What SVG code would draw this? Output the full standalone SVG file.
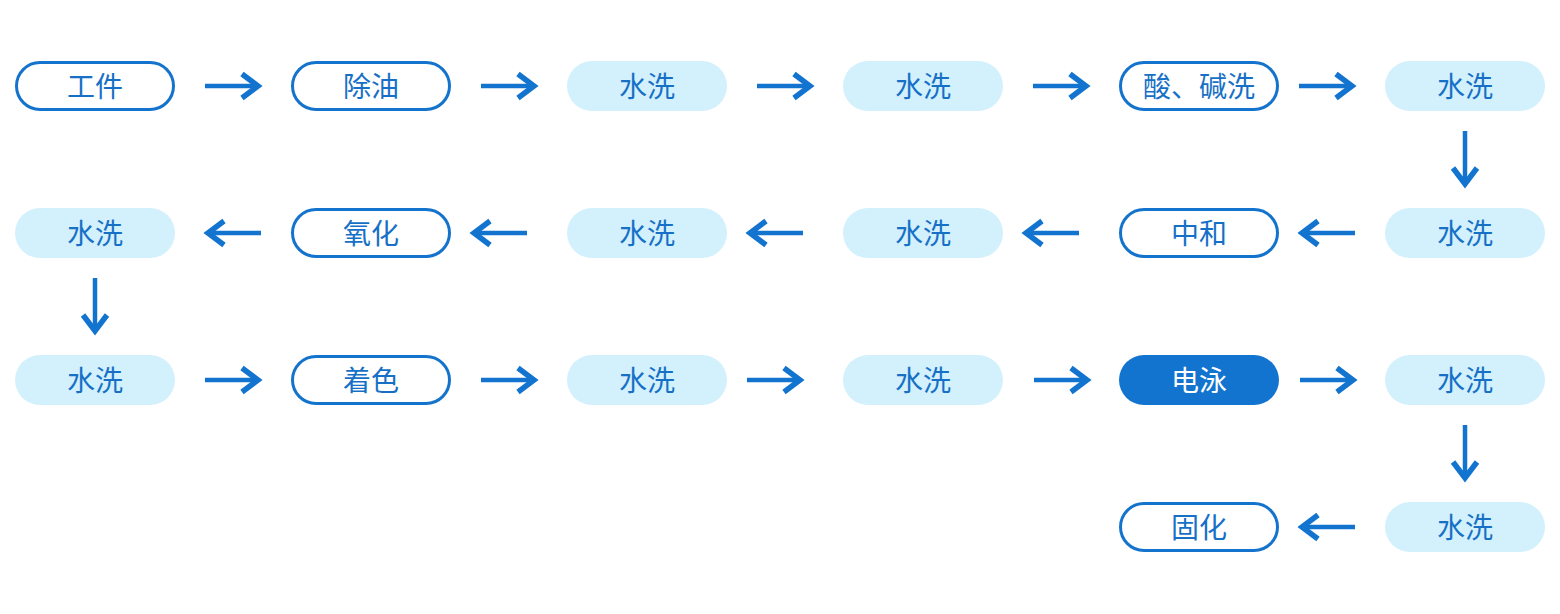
<svg xmlns="http://www.w3.org/2000/svg" width="1560" height="614" viewBox="0 0 1560 614">
<defs>
<style>
.o rect{fill:#fff;stroke:#1473cc;stroke-width:3}
.l rect{fill:#d3f0fd}
.d rect{fill:#1274cf}
text{font-family:"Noto Sans CJK SC","Noto Sans",sans-serif;font-size:28px;fill:#1670c6;text-anchor:middle;dominant-baseline:central}
.d text{fill:#fff}
.a{fill:none;stroke:#1274cf;stroke-width:4.5}
.h{fill:none;stroke:#1274cf;stroke-width:5.5;stroke-linejoin:miter}
</style>
<g id="arrowR"><path class="a" d="M-28 0H24"/><path class="h" d="M9-12L25 0L9 12"/></g>
<g id="arrowL"><path class="a" d="M28 0H-24"/><path class="h" d="M-9-12L-25 0L-9 12"/></g>
<g id="arrowD"><path class="a" d="M0-28V24"/><path class="h" d="M-12 9L0 25L12 9"/></g>
</defs>
<rect width="1560" height="614" fill="#fff"/>
<g id="n1" class="o"><rect x="16.5" y="62.5" width="157" height="47" rx="23.5"/><text x="95" y="85">工件</text></g>
<g id="n2" class="o"><rect x="292.5" y="62.5" width="157" height="47" rx="23.5"/><text x="371" y="85">除油</text></g>
<g id="n3" class="l"><rect x="567" y="61" width="160" height="50" rx="25"/><text x="647" y="85">水洗</text></g>
<g id="n4" class="l"><rect x="843" y="61" width="160" height="50" rx="25"/><text x="923" y="85">水洗</text></g>
<g id="n5" class="o"><rect x="1120.5" y="62.5" width="157" height="47" rx="23.5"/><text x="1199" y="85">酸、碱洗</text></g>
<g id="n6" class="l"><rect x="1385" y="61" width="160" height="50" rx="25"/><text x="1465" y="85">水洗</text></g>
<g id="n7" class="l"><rect x="1385" y="208" width="160" height="50" rx="25"/><text x="1465" y="232">水洗</text></g>
<g id="n8" class="o"><rect x="1120.5" y="209.5" width="157" height="47" rx="23.5"/><text x="1199" y="232">中和</text></g>
<g id="n9" class="l"><rect x="843" y="208" width="160" height="50" rx="25"/><text x="923" y="232">水洗</text></g>
<g id="n10" class="l"><rect x="567" y="208" width="160" height="50" rx="25"/><text x="647" y="232">水洗</text></g>
<g id="n11" class="o"><rect x="292.5" y="209.5" width="157" height="47" rx="23.5"/><text x="371" y="232">氧化</text></g>
<g id="n12" class="l"><rect x="15" y="208" width="160" height="50" rx="25"/><text x="95" y="232">水洗</text></g>
<g id="n13" class="l"><rect x="15" y="355" width="160" height="50" rx="25"/><text x="95" y="379">水洗</text></g>
<g id="n14" class="o"><rect x="292.5" y="356.5" width="157" height="47" rx="23.5"/><text x="371" y="379">着色</text></g>
<g id="n15" class="l"><rect x="567" y="355" width="160" height="50" rx="25"/><text x="647" y="379">水洗</text></g>
<g id="n16" class="l"><rect x="843" y="355" width="160" height="50" rx="25"/><text x="923" y="379">水洗</text></g>
<g id="n17" class="d"><rect x="1119" y="355" width="160" height="50" rx="25"/><text x="1199" y="379">电泳</text></g>
<g id="n18" class="l"><rect x="1385" y="355" width="160" height="50" rx="25"/><text x="1465" y="379">水洗</text></g>
<g id="n19" class="l"><rect x="1385" y="502" width="160" height="50" rx="25"/><text x="1465" y="526">水洗</text></g>
<g id="n20" class="o"><rect x="1120.5" y="503.5" width="157" height="47" rx="23.5"/><text x="1199" y="526">固化</text></g>
<g id="connectors">
<use href="#arrowR" x="233" y="86"/>
<use href="#arrowR" x="509" y="86"/>
<use href="#arrowR" x="785" y="86"/>
<use href="#arrowR" x="1061" y="86"/>
<use href="#arrowR" x="1327" y="86"/>
<use href="#arrowD" x="1465" y="159"/>
<use href="#arrowL" x="1327" y="233"/>
<use href="#arrowL" x="1051" y="233"/>
<use href="#arrowL" x="775" y="233"/>
<use href="#arrowL" x="499" y="233"/>
<use href="#arrowL" x="233" y="233"/>
<use href="#arrowD" x="95" y="306"/>
<use href="#arrowR" x="233" y="380"/>
<use href="#arrowR" x="509" y="380"/>
<use href="#arrowR" x="775" y="380"/>
<use href="#arrowR" x="1062" y="380"/>
<use href="#arrowR" x="1328" y="380"/>
<use href="#arrowD" x="1465" y="453"/>
<use href="#arrowL" x="1327" y="527"/>
</g>
</svg>
